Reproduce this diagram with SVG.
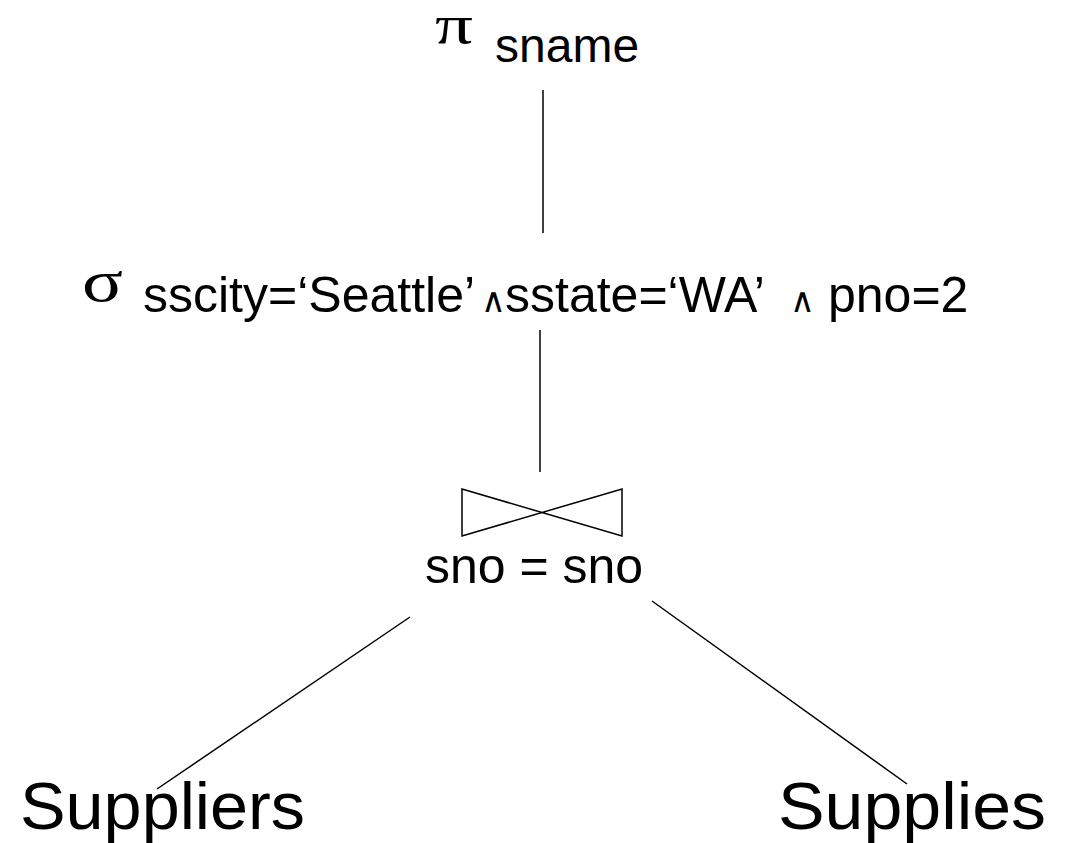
<svg xmlns="http://www.w3.org/2000/svg" width="1068" height="843" viewBox="0 0 1068 843">
<style>
.t{font-family:"Liberation Sans",Arial,sans-serif;fill:#000}
.g{font-family:"Liberation Serif","Times New Roman",serif;fill:#000}
.a{font-family:"DejaVu Sans","Liberation Sans",sans-serif;font-size:34px}
.e{stroke:#000;stroke-width:1.5;fill:none}
</style>
<rect width="1068" height="843" fill="#fff"/>
<g id="project">
<text class="g" x="435" y="43" font-size="54" textLength="38" lengthAdjust="spacingAndGlyphs">π</text>
<text class="t" x="495" y="62" font-size="48">sname</text>
</g>
<g id="select">
<text class="g" x="82" y="301" font-size="60" textLength="41" lengthAdjust="spacingAndGlyphs">σ</text>
<text class="t" y="312" font-size="50"><tspan x="143">sscity=‘Seattle’</tspan><tspan class="a" x="481">∧</tspan><tspan x="505">sstate=‘WA’</tspan><tspan class="a" x="790">∧</tspan><tspan x="828">pno=2</tspan></text>
</g>
<g id="join">
<path class="e" d="M462,489 L622,536 L622,489 L462,536 Z"/>
<text class="t" x="534" y="583" font-size="50" text-anchor="middle">sno = sno</text>
</g>
<g id="suppliers">
<text class="t" x="20" y="829" font-size="66" textLength="285" lengthAdjust="spacingAndGlyphs">Suppliers</text>
</g>
<g id="supplies">
<text class="t" x="778" y="829" font-size="66" textLength="268" lengthAdjust="spacingAndGlyphs">Supplies</text>
</g>
<g id="connectors">
<line class="e" x1="543" y1="90" x2="543" y2="233"/>
<line class="e" x1="540" y1="330" x2="540" y2="472"/>
<line class="e" x1="410" y1="617" x2="157" y2="789"/>
<line class="e" x1="652" y1="601" x2="907" y2="784"/>
</g>
</svg>
